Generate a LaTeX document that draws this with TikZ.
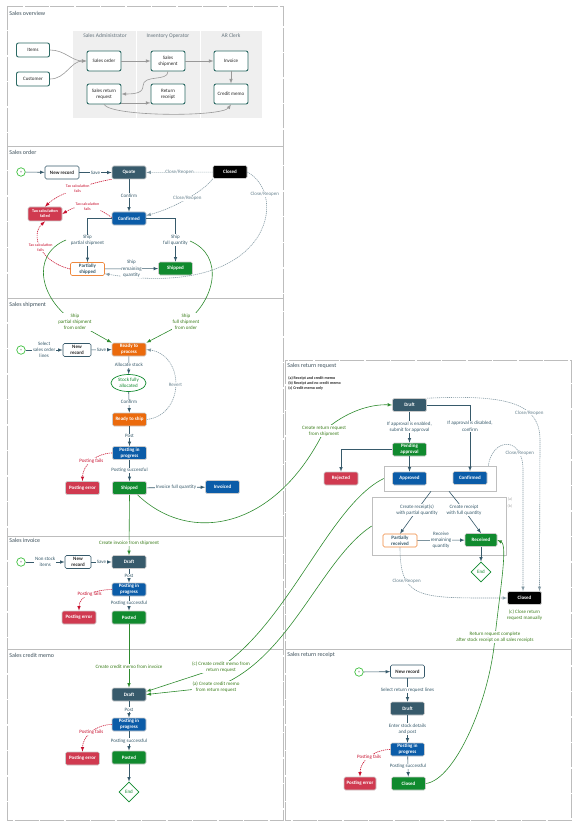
\documentclass[tikz,border=0pt]{standalone}
\usepackage{fontspec}
\setmainfont{Carlito}
\usepackage{tikz}
\usetikzlibrary{shapes.geometric}
\usetikzlibrary{calc}

\definecolor{slate}{HTML}{375A6B}
\definecolor{bluebox}{HTML}{0B5CA8}
\definecolor{greenbox}{HTML}{108A2E}
\definecolor{orangebox}{HTML}{EB6A0C}
\definecolor{redbox}{HTML}{D03A50}
\definecolor{startgreen}{HTML}{3CBF3C}
\definecolor{linkgreen}{HTML}{2E8B2E}
\definecolor{lblgreen}{HTML}{3A7D1A}
\definecolor{failred}{HTML}{C8102E}
\definecolor{framegray}{HTML}{BDBDBD}
\definecolor{lanegray}{HTML}{EFEFEF}
\definecolor{ovteal}{HTML}{2C6A64}
\definecolor{titlegray}{HTML}{3C4F5A}

\newcommand{\boxfont}{\fontsize{5}{6}\selectfont\bfseries}
\newcommand{\lblfont}{\fontsize{5}{6.2}\selectfont}
\newcommand{\smallfont}{\fontsize{4}{4.8}\selectfont}
\newcommand{\titlefont}{\fontsize{6}{7}\selectfont}

\begin{document}
\begin{tikzpicture}[
    x=1pt, y=-1pt, >=latex, line width=0.6pt,
    secframe/.style={draw=framegray, line width=0.9pt, dash pattern=on 24pt off 1.5pt},
    sectitle/.style={anchor=west, font=\titlefont, text=titlegray, inner sep=0pt},
    lanetitle/.style={font=\fontsize{5.5}{6}\selectfont, text=titlegray!80},
    ovbox/.style={draw=ovteal, line width=0.9pt, fill=white, rounded corners=2pt, minimum width=34pt, minimum height=20pt, inner sep=0.5pt, align=center, font=\lblfont, text=black!85},
    ovline/.style={->, draw=black!40, line width=0.6pt},
    box/.style={rounded corners=1.5pt, minimum width=34pt, minimum height=13pt, inner sep=0.5pt, align=center, font=\boxfont, text=white, draw=black!20, line width=0.6pt},
    newbox/.style={box, fill=white, draw=slate, text=black!85},
    partbox/.style={box, fill=white, draw=orangebox!80, text=slate},
    startdot/.style={circle, draw=startgreen, line width=0.7pt, minimum size=8.5pt, inner sep=0pt, font=\smallfont, text=black!70},
    enddia/.style={diamond, draw=greenbox, line width=0.7pt, fill=white, minimum width=20pt, minimum height=20pt, inner sep=0pt, font=\lblfont, text=greenbox},
    alloc/.style={ellipse, draw=greenbox, line width=0.7pt, fill=white, minimum width=35pt, minimum height=17pt, inner sep=0pt, align=center, font=\lblfont, text=greenbox},
    grpbox/.style={draw=black!25, line width=0.6pt},
    flow/.style={->, draw=slate},
    reopen/.style={->, draw=slate!60, dash pattern=on 1.2pt off 0.8pt},
    failline/.style={->, draw=failred, dash pattern=on 1.2pt off 0.8pt},
    xlink/.style={->, draw=linkgreen},
    lbl/.style={font=\lblfont, text=slate, fill=white, inner sep=0.6pt, align=center},
    clbl/.style={lbl, text=slate!75},
    glbl/.style={lbl, text=lblgreen},
    rlbl/.style={lbl, text=failred},
    tlbl/.style={rlbl, font=\smallfont},
  ]
  \useasboundingbox (0,0) rectangle (579,826);

  \draw[secframe] (7,6) rectangle (283,146);
  \draw[secframe] (7,146) rectangle (283,298);
  \draw[secframe] (7,298) rectangle (283,536);
  \draw[secframe] (7,536) rectangle (283,649);
  \draw[secframe] (7,649) rectangle (283,820);
  \draw[secframe] (285,360) rectangle (571,649);
  \draw[secframe] (285,649) rectangle (571,820);

  \node[sectitle] at (9,13) {Sales overview};
  \node[sectitle] at (9,152) {Sales order};
  \node[sectitle] at (9,305) {Sales shipment};
  \node[sectitle] at (9,540) {Sales invoice};
  \node[sectitle] at (9,655) {Sales credit memo};
  \node[sectitle] at (287,366) {Sales return request};
  \node[sectitle] at (287,655) {Sales return receipt};

  \fill[lanegray] (73,31) rectangle (262,118);
  \draw[white, line width=1pt] (136,31) -- (136,118);
  \draw[white, line width=1pt] (200,31) -- (200,118);
  \node[lanetitle] at (105,36) {Sales Administrator};
  \node[lanetitle] at (168,36) {Inventory Operator};
  \node[lanetitle] at (231,36) {AR Clerk};

  \node[ovbox, minimum height=14pt, minimum width=33pt] (ov-items) at (33,50) {Items};
  \node[ovbox, minimum height=14pt, minimum width=33pt] (ov-cust) at (33,79) {Customer};
  \node[ovbox] (ov-so) at (104,61) {Sales order};
  \node[ovbox] (ov-ship) at (168,61) {Sales\\shipment};
  \node[ovbox] (ov-inv) at (231,61) {Invoice};
  \node[ovbox] (ov-srr) at (104,94) {Sales return\\request};
  \node[ovbox] (ov-rr) at (168,94) {Return\\receipt};
  \node[ovbox] (ov-cm) at (231,94) {Credit memo};

  \draw[ovline] (ov-items.east) to[out=0, in=180] (ov-so.west);
  \draw[ovline] (ov-cust.east) to[out=0, in=180] (ov-so.west);
  \draw[ovline] (ov-so) -- (ov-ship);
  \draw[ovline] (ov-ship) -- (ov-inv);
  \draw[ovline] (ov-inv) -- (ov-cm);
  \draw[ovline] (ov-ship.south) .. controls (168,82) and (143,74) .. (143,86) .. controls (143,93) and (135,94) .. (ov-srr.east);
  \draw[ovline] ([yshift=1.5pt]ov-srr.south east) -- ([yshift=1.5pt]ov-rr.south west);
  \draw[ovline] (ov-srr.south) .. controls (112,117) and (222,117) .. (ov-cm.south);

  \node[startdot] (so-start) at (21,172) {+};
  \node[newbox] (so-new) at (62,172.5) {New record};
  \node[box, fill=slate] (so-quote) at (129,172.5) {Quote};
  \node[box, fill=black] (so-closed) at (230,172) {Closed};
  \node[box, fill=bluebox] (so-conf) at (129,218.5) {Confirmed};
  \node[box, fill=redbox, font=\fontsize{4.2}{5}\selectfont\bfseries, minimum height=14pt] (so-tax) at (45,214) {Tax calculation\\failed};
  \node[partbox] (so-part) at (87.5,269) {Partially\\shipped};
  \node[box, fill=greenbox] (so-ship) at (175.5,268.5) {Shipped};
  \coordinate (so-ppos) at (66,240);
  \coordinate (so-fpos) at (190,241);

  \draw[flow] (so-start) -- (so-new);
  \draw[flow] (so-new) -- node[lbl] {Save} (so-quote);
  \draw[reopen] (so-closed) -- node[clbl] {Close/Reopen} (so-quote);
  \draw[reopen] (so-closed.south west) .. controls (205,190) and (175,208) .. node[clbl] {Close/Reopen} ([yshift=3pt]so-conf.east);
  \draw[reopen] (so-closed.east) .. controls (290,195) and (270,300) .. node[clbl, pos=0.2] {Close/Reopen} ([yshift=2pt]so-part.south east);
  \draw[flow] (so-quote) -- node[lbl] {Confirm} (so-conf);
  \draw[failline] (so-quote.south west) .. controls (95,182) and (60,192) .. node[tlbl] {Tax calculation\\fails} (so-tax.north);
  \draw[failline] ([yshift=1pt]so-conf.west) .. controls (95,205) and (80,203) .. node[tlbl] {Tax calculation\\fails} (so-tax.east);
  \draw[failline] (so-part.west) .. controls (40,262) and (30,235) .. node[tlbl] {Tax calculation\\fails} (so-tax.south);
  \draw[flow] (so-conf.west) -| node[lbl, pos=0.75] {Ship\\partial shipment} (so-part.north);
  \draw[flow] (so-conf.east) -| node[lbl, pos=0.75] {Ship\\full quantity} (so-ship.north);
  \draw[flow] (so-part) -- node[lbl] {Ship\\remaining\\quantity} (so-ship);

  \node[startdot] (sh-start) at (21,350) {+};
  \node[newbox, minimum width=28pt] (sh-new) at (77,350) {New\\record};
  \node[box, fill=orangebox] (sh-ready) at (129,349.5) {Ready to\\process};
  \node[alloc] (sh-alloc) at (128.5,383) {Stock fully\\allocated};
  \node[box, fill=orangebox] (sh-rts) at (129.5,419.5) {Ready to ship};
  \node[box, fill=bluebox] (sh-pip) at (129.5,453) {Posting in\\progress};
  \node[box, fill=redbox] (sh-err) at (82.5,488) {Posting error};
  \node[box, fill=greenbox] (sh-ship) at (129.5,488) {Shipped};
  \node[box, fill=bluebox] (sh-inv) at (222.5,487) {Invoiced};

  \draw[xlink] (so-ppos) .. controls (30,255) and (40,300) .. (75,322) node[glbl] {Ship\\partial shipment\\from order} -- (sh-ready.north west);
  \draw[xlink] (so-fpos) .. controls (225,256) and (215,300) .. (186,322) node[glbl] {Ship\\full shipment\\from order} -- (sh-ready.north east);
  \draw[flow] (sh-start) -- node[lbl] {Select\\sales order\\lines} (sh-new);
  \draw[flow] (sh-new) -- node[lbl] {Save} (sh-ready);
  \draw[flow] (sh-ready) -- node[lbl] {Allocate stock} (sh-alloc);
  \draw[flow] (sh-alloc) -- node[lbl] {Confirm} (sh-rts);
  \draw[reopen] (sh-rts.east) .. controls (185,415) and (185,355) .. node[clbl] {Revert} (sh-ready.east);
  \draw[flow] (sh-rts) -- node[lbl] {Post} (sh-pip);
  \draw[flow] (sh-pip) -- node[lbl] {Posting successful} (sh-ship);
  \draw[failline] (sh-pip.west) to[out=180, in=90] node[rlbl] {Posting fails} (sh-err.north);
  \draw[flow] (sh-ship) -- node[lbl] {Invoice full quantity} (sh-inv);

  \node[startdot] (si-start) at (21,562) {+};
  \node[newbox, minimum width=26pt] (si-new) at (78,562) {New\\record};
  \node[box, fill=slate] (si-draft) at (129,562) {Draft};
  \node[box, fill=bluebox] (si-pip) at (129,589.5) {Posting in\\progress};
  \node[box, fill=redbox] (si-err) at (79,617.5) {Posting error};
  \node[box, fill=greenbox] (si-post) at (129,617.5) {Posted};

  \draw[xlink] (sh-ship.south) -- node[glbl, pos=0.8] {Create invoice from shipment} (si-draft.north);
  \draw[flow] (si-start) -- node[lbl] {Non stock\\items} (si-new);
  \draw[flow] (si-new) -- node[lbl] {Save} (si-draft);
  \draw[flow] (si-draft) -- node[lbl] {Post} (si-pip);
  \draw[flow] (si-pip) -- node[lbl] {Posting successful} (si-post);
  \draw[failline] (si-pip.west) to[out=180, in=90] node[rlbl] {Posting fails} (si-err.north);

  \node[box, fill=slate] (cm-draft) at (129,694.5) {Draft};
  \node[box, fill=bluebox] (cm-pip) at (129,724.5) {Posting in\\progress};
  \node[box, fill=redbox] (cm-err) at (82.5,758.5) {Posting error};
  \node[box, fill=greenbox] (cm-post) at (129,757.5) {Posted};
  \node[enddia] (cm-end) at (129,792) {End};

  \draw[xlink] (si-post.south) -- node[glbl, pos=0.67] {Create credit memo from invoice} (cm-draft.north);
  \draw[flow] (cm-draft) -- node[lbl] {Post} (cm-pip);
  \draw[flow] (cm-pip) -- node[lbl] {Posting successful} (cm-post);
  \draw[failline] (cm-pip.west) to[out=180, in=90] node[rlbl] {Posting fails} (cm-err.north);
  \draw[flow] (cm-post) -- (cm-end);

  \node[anchor=north west, inner sep=0pt, align=left, font=\fontsize{4}{5}\selectfont\bfseries, text=black!85] (rr-legend) at (288,376) {(a) Receipt and credit memo\\(b) Receipt and no credit memo\\(c) Credit memo only};
  \node[grpbox, minimum width=112pt, minimum height=25pt] (rr-g1) at (440,478.5) {};
  \node[grpbox, minimum width=134pt, minimum height=58pt] (rr-g2) at (439,526) {};
  \node[font=\smallfont, text=black!35] (rr-tag) at (510,499) {(a)};
  \node[font=\smallfont, text=black!35] at (510,506) {(b)};
  \node[box, fill=slate] (rr-draft) at (409.5,405) {Draft};
  \node[box, fill=greenbox] (rr-pend) at (409.5,449.5) {Pending\\approval};
  \node[box, fill=redbox] (rr-rej) at (341,478.5) {Rejected};
  \node[box, fill=bluebox] (rr-appr) at (409.5,478.5) {Approved};
  \node[box, fill=bluebox] (rr-conf) at (470,478) {Confirmed};
  \node[partbox] (rr-part) at (400,540.5) {Partially\\received};
  \node[box, fill=greenbox, minimum width=32pt] (rr-rcv) at (481,540) {Received};
  \node[enddia] (rr-end) at (481,572) {End};
  \node[box, fill=black] (rr-closed) at (524.5,598) {Closed};
  \node[glbl, fill=none] (rr-cnote) at (524.5,615) {(c) Close return\\request manually};

  \draw[xlink] ([xshift=8pt]sh-ship.south) .. controls (190,545) and (275,530) .. (324,431) node[glbl] {Create return request\\from shipment} .. controls (345,412) and (370,404) .. (rr-draft.west);
  \draw[flow] (rr-draft) -- node[lbl] {If approval is enabled,\\submit for approval} (rr-pend);
  \draw[flow] (rr-draft.east) -| node[lbl, pos=0.66] {If approval is disabled,\\confirm} (rr-conf.north);
  \draw[flow] (rr-pend) -- (rr-appr);
  \draw[flow] (rr-pend.west) -| (rr-rej.north);
  \draw[flow] ([xshift=-9pt]rr-g1.south) -- (417,510) node[lbl] {Create receipt(s)\\with partial quantity} -- (rr-part.north);
  \draw[flow] ([xshift=9pt]rr-g1.south) -- (464,510) node[lbl] {Create receipt\\with full quantity} -- (rr-rcv.north);
  \draw[flow] (rr-part) -- node[lbl] {Receive\\remaining\\quantity} (rr-rcv);
  \draw[flow] (rr-rcv) -- (rr-end);
  \draw[reopen] (rr-part.south) .. controls (400,600) and (420,598) .. node[clbl, pos=0.3] {Close/Reopen} (rr-closed.west);
  \draw[reopen] ([xshift=-8pt]rr-g1.north east) .. controls (492,438) and (523,435) .. node[clbl, pos=0.8] {Close/Reopen} (523,470) -- ([xshift=-1.5pt]rr-closed.north);
  \draw[reopen] (rr-draft.north east) .. controls (500,395) and (540,400) .. node[clbl, pos=0.7] {Close/Reopen} (540,440) -- ([xshift=15pt]rr-closed.north);
  \draw[xlink] (rr-g1.west) .. controls (330,505) and (290,620) .. (221,667) node[glbl] {(c) Create credit memo from\\return request} -- ([yshift=3pt]cm-draft.east);
  \draw[xlink] (rr-g2.west) .. controls (320,560) and (290,660) .. (216,687) node[glbl] {(a) Create credit memo\\from return request} -- (cm-draft.east);

  \node[startdot] (rt-start) at (359,672) {+};
  \node[newbox] (rt-new) at (407.5,671.5) {New record};
  \node[box, fill=slate] (rt-draft) at (407.5,708.5) {Draft};
  \node[box, fill=bluebox] (rt-pip) at (407.5,749.5) {Posting in\\progress};
  \node[box, fill=redbox, minimum width=32pt] (rt-err) at (360,783.5) {Posting error};
  \node[box, fill=greenbox] (rt-closed) at (408.5,783.5) {Closed};

  \draw[flow] (rt-start) -- (rt-new);
  \draw[flow] (rt-new) -- node[lbl] {Select return request lines} (rt-draft);
  \draw[flow] (rt-draft) -- node[lbl] {Enter stock details\\and post} (rt-pip);
  \draw[flow] (rt-pip) -- node[lbl] {Posting successful} (rt-closed);
  \draw[failline] (rt-pip.west) to[out=180, in=90] node[rlbl] {Posting fails} (rt-err.north);
  \draw[xlink] (rt-closed.east) .. controls (455,780) and (490,700) .. (495,637) node[glbl] {Return request complete\\after stock receipt on all sales receipts} .. controls (500,590) and (508,545) .. (rr-rcv.east);
\end{tikzpicture}
\end{document}
